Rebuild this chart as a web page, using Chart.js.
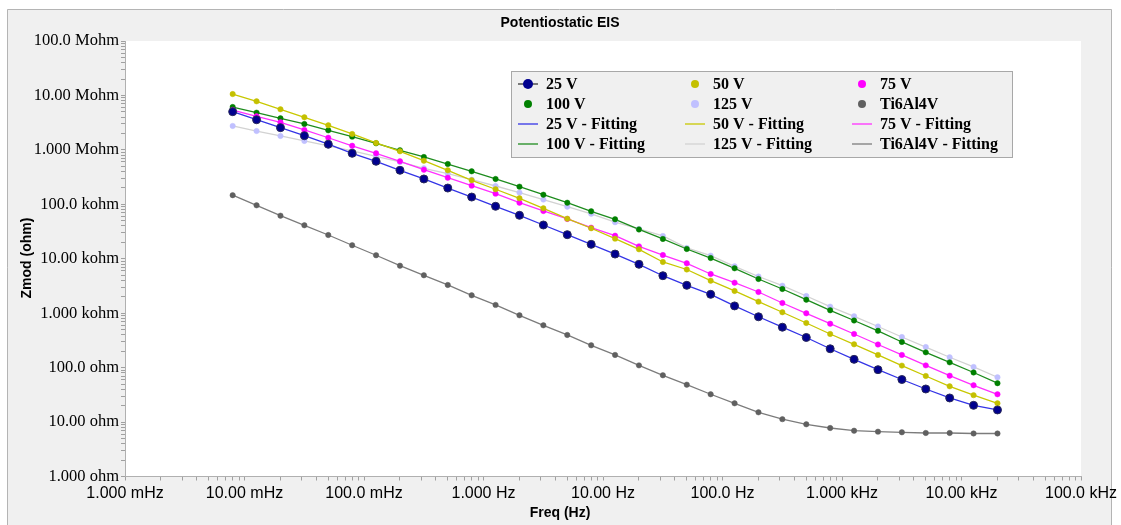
<!DOCTYPE html>
<html>
<head>
<meta charset="utf-8">
<title>Potentiostatic EIS</title>
<script src="https://cdn.jsdelivr.net/npm/chart.js@4.4.1/dist/chart.umd.min.js"></script>
<style>
  html, body { margin: 0; padding: 0; background: #fff; }
  #wrap { position: relative; width: 1121px; height: 525px; }
</style>
</head>
<body>
<div id="wrap"><canvas id="chartEis"></canvas></div>
<script>
/* ====== DATA ====== */
// frequency (Hz), 5 points per decade, 20 kHz down to ~8 mHz
const freq = [0.007962, 0.01262, 0.02000, 0.03170, 0.05024, 0.07962, 0.1262, 0.2000, 0.3170, 0.5024,
  0.7962, 1.262, 2.000, 3.170, 5.024, 7.962, 12.62, 20.00, 31.70, 50.24,
  79.62, 126.2, 200.0, 317.0, 502.4, 796.2, 1262, 2000, 3170, 5024,
  7962, 12620, 20000];

// Zmod (ohm)
const z25 = [5.03e6, 3.58e6, 2.56e6, 1.82e6, 1.27e6, 8.65e5, 6.17e5, 4.22e5, 2.92e5, 1.99e5,
  1.36e5, 9.20e4, 6.28e4, 4.17e4, 2.77e4, 1.84e4, 1.22e4, 7.91e3, 4.88e3, 3.25e3,
  2.22e3, 1.36e3, 859, 553, 358, 222, 142, 91.7, 60.5, 40.5,
  27.7, 20.3, 16.7];
const z50 = [1.06e7, 7.80e6, 5.57e6, 3.97e6, 2.83e6, 1.96e6, 1.34e6, 9.42e5, 6.33e5, 4.22e5,
  2.76e5, 1.89e5, 1.29e5, 8.45e4, 5.44e4, 3.63e4, 2.34e4, 1.49e4, 8.72e3, 6.35e3,
  3.95e3, 2.56e3, 1.63e3, 1.04e3, 661, 415, 268, 171, 109, 70.2,
  45.4, 31.2, 22.1];
const z75 = [5.40e6, 4.14e6, 3.21e6, 2.32e6, 1.67e6, 1.19e6, 8.65e5, 6.17e5, 4.32e5, 3.08e5,
  2.20e5, 1.57e5, 1.07e5, 7.54e4, 5.38e4, 3.72e4, 2.65e4, 1.69e4, 1.17e4, 8.25e3,
  5.25e3, 3.63e3, 2.45e3, 1.54e3, 996, 641, 415, 266, 171, 110,
  71.1, 47.4, 32.4];
const z100 = [6.13e6, 4.82e6, 3.80e6, 2.99e6, 2.29e6, 1.75e6, 1.32e6, 9.82e5, 7.40e5, 5.50e5,
  4.04e5, 2.92e5, 2.11e5, 1.50e5, 1.07e5, 7.44e4, 5.31e4, 3.45e4, 2.31e4, 1.51e4,
  1.03e4, 6.68e3, 4.25e3, 2.78e3, 1.77e3, 1.13e3, 734, 475, 296, 191,
  125, 81.4, 51.8];
const z125 = [2.75e6, 2.22e6, 1.80e6, 1.46e6, 1.19e6, 9.54e5, 7.62e5, 5.99e5, 4.59e5, 3.65e5,
  2.83e5, 2.17e5, 1.64e5, 1.22e5, 9.04e4, 6.70e4, 4.69e4, 3.52e4, 2.62e4, 1.58e4,
  1.14e4, 7.27e3, 4.72e3, 3.20e3, 2.07e3, 1.32e3, 877, 570, 365, 239,
  155, 103, 66.5];
const zTi = [1.47e5, 9.59e4, 6.18e4, 4.12e4, 2.73e4, 1.77e4, 1.16e4, 7.46e3, 4.97e3, 3.30e3,
  2.13e3, 1.42e3, 915, 599, 398, 257, 171, 110, 72.3, 48.6,
  32.4, 22.1, 15.1, 11.3, 9.10, 7.78, 6.94, 6.66, 6.49, 6.30,
  6.30, 6.17, 6.17];

const seriesNames = ["25 V", "50 V", "75 V", "100 V", "125 V", "Ti6Al4V"];
const seriesValues = [z25, z50, z75, z100, z125, zTi];
const pointColors = ["#00008e", "#c4c000", "#ff00ff", "#008000", "#c0c0ff", "#606060"];
const fitColors = ["#3434e6", "#c8c800", "#ff30ff", "#1e8c1e", "#d2d2d2", "#7c7c7c"];

const xTickLabels = ["1.000 mHz", "10.00 mHz", "100.0 mHz", "1.000 Hz", "10.00 Hz", "100.0 Hz", "1.000 kHz", "10.00 kHz", "100.0 kHz"];
const yTickLabels = ["1.000 ohm", "10.00 ohm", "100.0 ohm", "1.000 kohm", "10.00 kohm", "100.0 kohm", "1.000 Mohm", "10.00 Mohm", "100.0 Mohm"];
const xFirstExp = -3;
const yFirstExp = 0;

/* ====== HELPERS ====== */
function toPoints(values) {
  return values.map((v, i) => ({ x: freq[i], y: v }));
}

// decade + minor (2..9) ticks
function logTicks(firstExp, count) {
  const t = [];
  for (let k = 0; k < count; k++) {
    const base = Math.pow(10, firstExp + k);
    t.push({ value: base });
    if (k < count - 1) {
      for (let m = 2; m <= 9; m++) t.push({ value: m * base });
    }
  }
  return t;
}

function decadeLabel(value, labels, firstExp) {
  const e = Math.log10(value);
  const r = Math.round(e);
  if (Math.abs(e - r) < 1e-6) return labels[r - firstExp] || "";
  return "";
}

/* ====== DATASETS ====== */
const datasets = [];
seriesNames.forEach((name, i) => {
  datasets.push({
    label: name,
    data: toPoints(seriesValues[i]),
    showLine: false,
    pointRadius: i === 0 ? 4 : 2.7,
    pointBackgroundColor: pointColors[i],
    pointBorderColor: i === 0 ? "#2a2a5a" : pointColors[i],
    pointBorderWidth: i === 0 ? 1 : 0.5,
    order: 1
  });
});
seriesNames.forEach((name, i) => {
  datasets.push({
    label: name + " - Fitting",
    data: toPoints(seriesValues[i]),
    showLine: true,
    borderColor: fitColors[i],
    borderWidth: 1.3,
    pointRadius: 0,
    tension: 0,
    order: 2
  });
});

/* ====== PLUGIN: frame, titles, legend ====== */
const framePlugin = {
  id: "frame",
  beforeDraw(chart) {
    const ctx = chart.ctx;
    const a = chart.chartArea;
    ctx.save();
    ctx.fillStyle = "#ffffff";
    ctx.fillRect(0, 0, chart.width, chart.height);
    ctx.fillStyle = "#f0f0f0";
    ctx.fillRect(7, 9, 1105, 520);
    ctx.strokeStyle = "#b4b4b4";
    ctx.lineWidth = 1;
    ctx.beginPath();
    ctx.moveTo(7.5, 530);
    ctx.lineTo(7.5, 9.5);
    ctx.lineTo(1111.5, 9.5);
    ctx.lineTo(1111.5, 530);
    ctx.stroke();
    ctx.fillStyle = "#ffffff";
    ctx.fillRect(a.left, a.top, a.right - a.left, a.bottom - a.top);
    ctx.restore();
  },
  afterDraw(chart) {
    const ctx = chart.ctx;
    ctx.save();
    // titles
    ctx.fillStyle = "#000";
    ctx.textAlign = "center";
    ctx.textBaseline = "middle";
    ctx.font = "bold 14px 'Liberation Sans', Arial, sans-serif";
    ctx.fillText("Potentiostatic EIS", 560, 23);
    ctx.fillText("Freq (Hz)", 560, 513);
    ctx.translate(27, 258);
    ctx.rotate(-Math.PI / 2);
    ctx.fillText("Zmod (ohm)", 0, 0);
    ctx.setTransform(1, 0, 0, 1, 0, 0);

    // legend box
    const bx = 511.5, by = 71.5, bw = 501, bh = 86;
    ctx.fillStyle = "#f0f0f0";
    ctx.fillRect(bx, by, bw, bh);
    ctx.strokeStyle = "#a8a8a8";
    ctx.lineWidth = 1;
    ctx.strokeRect(bx, by, bw, bh);

    const colMarker = [528, 695, 862];
    const colText = [546, 713, 880];
    const rowY = [84, 104, 124, 144];
    ctx.font = "bold 16px 'Liberation Serif', 'Times New Roman', serif";
    ctx.textAlign = "left";
    chart.data.datasets.forEach((ds, i) => {
      const row = Math.floor(i / 3);
      const col = i % 3;
      const mx = colMarker[col];
      const my = rowY[row];
      if (ds.showLine) {
        ctx.strokeStyle = ds.borderColor;
        ctx.lineWidth = 1.3;
        ctx.beginPath();
        ctx.moveTo(mx - 10, my);
        ctx.lineTo(mx + 10, my);
        ctx.stroke();
      } else {
        if (i === 0) {
          ctx.strokeStyle = "#000";
          ctx.lineWidth = 1;
          ctx.beginPath();
          ctx.moveTo(mx - 10, my);
          ctx.lineTo(mx + 10, my);
          ctx.stroke();
        }
        ctx.fillStyle = ds.pointBackgroundColor;
        ctx.beginPath();
        ctx.arc(mx, my, i === 0 ? 5 : 4, 0, Math.PI * 2);
        ctx.fill();
      }
      ctx.fillStyle = "#000";
      ctx.fillText(ds.label, colText[col], my + 1);
    });
    ctx.restore();
  }
};

/* ====== CHART ====== */
new Chart(document.getElementById("chartEis"), {
  type: "scatter",
  data: { datasets: datasets },
  options: {
    responsive: true,
    maintainAspectRatio: false,
    animation: false,
    layout: { padding: { top: 41, right: 40, bottom: 0, left: 0 } },
    plugins: {
      legend: { display: false },
      title: { display: false },
      tooltip: { enabled: false }
    },
    scales: {
      x: {
        type: "logarithmic",
        min: 1e-3,
        max: 1e5,
        afterBuildTicks: axis => { axis.ticks = logTicks(xFirstExp, xTickLabels.length); },
        afterFit: axis => { axis.height = 48.5; },
        grid: { drawOnChartArea: false, drawTicks: true, tickLength: 4, color: "#a0a0a0" },
        border: { display: true, color: "#b0b0b0" },
        ticks: {
          autoSkip: false,
          maxRotation: 0,
          padding: 3,
          color: "#000",
          font: { family: "'Liberation Sans', Arial, sans-serif", size: 16 },
          callback: v => decadeLabel(v, xTickLabels, xFirstExp)
        }
      },
      y: {
        type: "logarithmic",
        min: 1,
        max: 1e8,
        afterBuildTicks: axis => { axis.ticks = logTicks(yFirstExp, yTickLabels.length); },
        afterFit: axis => { axis.width = 125; },
        grid: { drawOnChartArea: false, drawTicks: true, tickLength: 4, color: "#a0a0a0" },
        border: { display: true, color: "#b0b0b0" },
        ticks: {
          autoSkip: false,
          padding: 2,
          color: "#000",
          font: { family: "'Liberation Serif', 'Times New Roman', serif", size: 16.5 },
          callback: v => decadeLabel(v, yTickLabels, yFirstExp)
        }
      }
    }
  },
  plugins: [framePlugin]
});
</script>
</body>
</html>
